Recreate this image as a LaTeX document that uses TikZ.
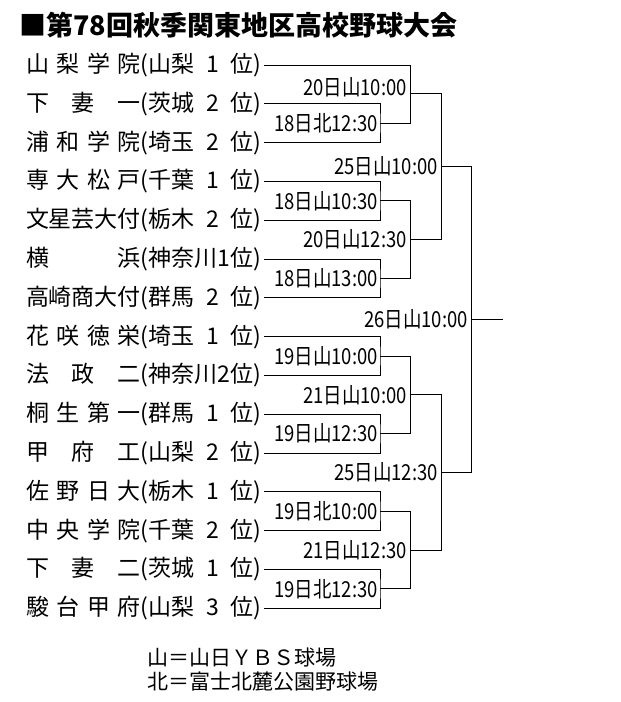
\documentclass[tikz,border=0pt]{standalone}
\usepackage{fontspec}
\setmainfont{Noto Sans CJK JP}
\newcommand{\teamtext}[2]{\makebox[115pt][s]{#1}\makebox[120pt][s]{(#2)}}
\tikzset{
  team/.style={anchor=west, inner sep=0pt, outer xsep=3pt, font=\fontsize{23}{23}\selectfont},
  match/.style={anchor=east, inner sep=0pt, xscale=0.84, font=\fontsize{22}{22}\selectfont},
  bracket/.style={line width=0.9pt}
}
\begin{document}
\begin{tikzpicture}[x=1pt,y=-1pt]
        \useasboundingbox (0,0) rectangle (621,702);
        \node[anchor=west, inner sep=0pt, font=\bfseries\fontsize{27}{27}\selectfont] (title) at (19,25) {■第78回秋季関東地区高校野球大会};
        \foreach \nm/\pf [count=\i] in {
          山\hfill 梨\hfill 学\hfill 院/山梨\hfill 1\hfill 位,
          下\hfill 妻\hfill 一/茨城\hfill 2\hfill 位,
          浦\hfill 和\hfill 学\hfill 院/埼玉\hfill 2\hfill 位,
          専\hfill 大\hfill 松\hfill 戸/千葉\hfill 1\hfill 位,
          文星芸大付/栃木\hfill 2\hfill 位,
          横\hfill 浜/神奈川1位,
          高崎商大付/群馬\hfill 2\hfill 位,
          花\hfill 咲\hfill 徳\hfill 栄/埼玉\hfill 1\hfill 位,
          法\hfill 政\hfill 二/神奈川2位,
          桐\hfill 生\hfill 第\hfill 一/群馬\hfill 1\hfill 位,
          甲\hfill 府\hfill 工/山梨\hfill 2\hfill 位,
          佐\hfill 野\hfill 日\hfill 大/栃木\hfill 1\hfill 位,
          中\hfill 央\hfill 学\hfill 院/千葉\hfill 2\hfill 位,
          下\hfill 妻\hfill 二/茨城\hfill 1\hfill 位,
          駿\hfill 台\hfill 甲\hfill 府/山梨\hfill 3\hfill 位}{
          \node[team] (t\i) at (23,{65+38.8*(\i-1)}) {\teamtext{\nm}{\pf}};
        }
        % first round
        \coordinate (m1) at (380,123.2);
        \coordinate (m2) at (380,200.8);
        \coordinate (m3) at (380,278.4);
        \coordinate (m4) at (380,356);
        \coordinate (m5) at (380,433.6);
        \coordinate (m6) at (380,511.2);
        \coordinate (m7) at (380,588.8);
        % second round
        \coordinate (s1) at (410,93);
        \coordinate (s2) at (410,239.6);
        \coordinate (s3) at (410,394.8);
        \coordinate (s4) at (410,550);
        % semifinals, final
        \coordinate (h1) at (441,166.3);
        \coordinate (h2) at (441,472.4);
        \coordinate (fin) at (471,319.4);
        \coordinate (out) at (503,319.4);

        \draw[bracket] (t2.east) -| (m1) |- (t3.east);
        \draw[bracket] (t4.east) -| (m2) |- (t5.east);
        \draw[bracket] (t6.east) -| (m3) |- (t7.east);
        \draw[bracket] (t8.east) -| (m4) |- (t9.east);
        \draw[bracket] (t10.east) -| (m5) |- (t11.east);
        \draw[bracket] (t12.east) -| (m6) |- (t13.east);
        \draw[bracket] (t14.east) -| (m7) |- (t15.east);
        \draw[bracket] (t1.east) -| (s1);
        \draw[bracket] (m1) -| (s1);
        \draw[bracket] (m2) -| (s2);
        \draw[bracket] (m3) -| (s2);
        \draw[bracket] (m4) -| (s3);
        \draw[bracket] (m5) -| (s3);
        \draw[bracket] (m6) -| (s4);
        \draw[bracket] (m7) -| (s4);
        \draw[bracket] (s1) -| (h1);
        \draw[bracket] (s2) -| (h1);
        \draw[bracket] (s3) -| (h2);
        \draw[bracket] (s4) -| (h2);
        \draw[bracket] (h1) -| (fin);
        \draw[bracket] (h2) -| (fin);
        \draw[bracket] (fin) -- (out);

        \node[match] (lm1) at ([xshift=-2pt]m1) {18日北12:30};
        \node[match] (lm2) at ([xshift=-2pt]m2) {18日山10:30};
        \node[match] (lm3) at ([xshift=-2pt]m3) {18日山13:00};
        \node[match] (lm4) at ([xshift=-2pt]m4) {19日山10:00};
        \node[match] (lm5) at ([xshift=-2pt]m5) {19日山12:30};
        \node[match] (lm6) at ([xshift=-2pt]m6) {19日北10:00};
        \node[match] (lm7) at ([xshift=-2pt]m7) {19日北12:30};
        \node[match] (ls1) at ([xshift=-3pt,yshift=6pt]s1) {20日山10:00};
        \node[match] (ls2) at ([xshift=-3pt]s2) {20日山12:30};
        \node[match] (ls3) at ([xshift=-3pt]s3) {21日山10:00};
        \node[match] (ls4) at ([xshift=-3pt]s4) {21日山12:30};
        \node[match] (lh1) at ([xshift=-3pt]h1) {25日山10:00};
        \node[match] (lh2) at ([xshift=-3pt]h2) {25日山12:30};
        \node[match] (lfin) at ([xshift=-3pt]fin) {26日山10:00};

        \node[anchor=west, inner sep=0pt, align=left, font=\fontsize{21}{24}\selectfont] (legend) at (147,670) {山＝山日ＹＢＳ球場\\北＝富士北麓公園野球場};
      \end{tikzpicture}
\end{document}
